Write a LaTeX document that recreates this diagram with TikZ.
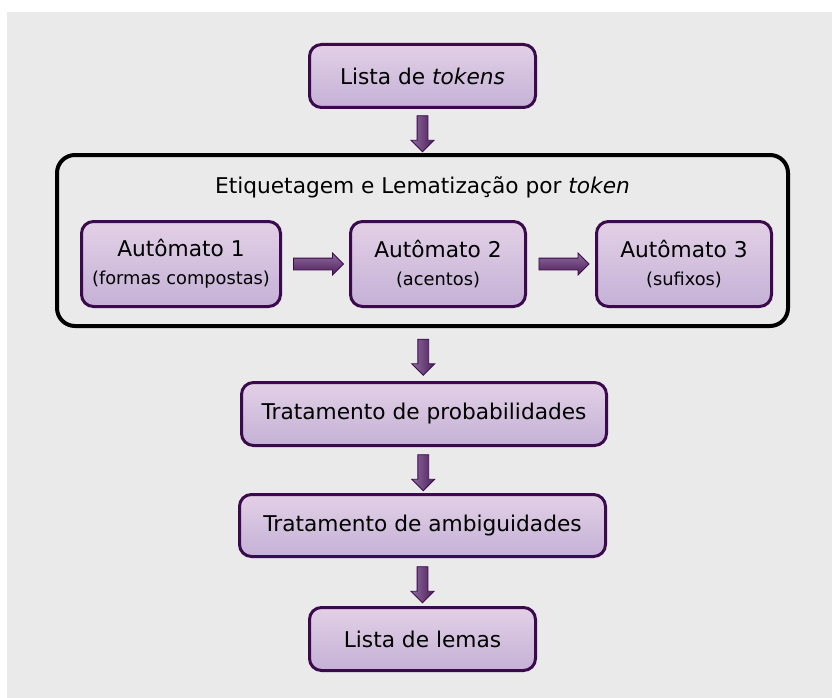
\documentclass[tikz,border=0pt]{standalone}
\usepackage{fontspec}
\setmainfont{DejaVu Sans}
\usetikzlibrary{shapes.arrows,calc}
\definecolor{boxtop}{HTML}{E3D0E6}
\definecolor{boxbot}{HTML}{C4B1D6}
\definecolor{boxline}{HTML}{3A0A4C}
\definecolor{arlight}{HTML}{8E6C9E}
\definecolor{ardark}{HTML}{4E1E5A}
\definecolor{bg}{HTML}{EAEAEA}
\newcommand{\mainf}{\fontsize{21.7}{26}\selectfont}
\newcommand{\subf}{\fontsize{17.8}{21}\selectfont}
\tikzset{
  pbox/.style={rectangle, rounded corners=12pt, draw=boxline, line width=3pt,
    top color=boxtop, bottom color=boxbot, align=center, inner sep=0pt,
    font=\mainf, text=black},
  frame/.style={rectangle, rounded corners=18pt, draw=black, line width=4pt, inner sep=0pt},
  darr/.style={single arrow, shape border rotate=270, draw=boxline, line width=0.8pt,
    left color=arlight, right color=ardark, inner sep=5pt,
    single arrow head extend=6pt, single arrow tip angle=90, minimum height=36pt},
  rarr/.style={single arrow, draw=boxline, line width=0.8pt,
    top color=arlight, bottom color=ardark, inner sep=5.5pt,
    single arrow head extend=5pt, single arrow tip angle=90, minimum height=50pt},
}
\begin{document}
\begin{tikzpicture}[x=1pt,y=-1pt]
\useasboundingbox (0,0) rectangle (832,698);
\fill[white] (0,0) rectangle (832,698);
\fill[bg] (7,12) rectangle (832,698);
\node[pbox, minimum width=226pt, minimum height=63pt] (lt) at (422.5,76) {Lista de \textit{tokens}};
\node[frame, minimum width=731pt, minimum height=171pt] (fr) at (422.5,240.5) {};
\node[font=\mainf] (title) at (422.5,187) {Etiquetagem e Lematização por \textit{token}};
\node[pbox, minimum width=199pt, minimum height=85pt] (a1) at (181,264) {Autômato 1\\[2pt]{\subf (formas compostas)}};
\node[pbox, minimum width=175pt, minimum height=85pt] (a2) at (438,264) {Autômato 2\\[2pt]{\subf (acentos)}};
\node[pbox, minimum width=175pt, minimum height=85pt] (a3) at (684,264) {Autômato 3\\[2pt]{\subf (sufixos)}};
\node[pbox, minimum width=365pt, minimum height=63pt] (tp) at (424,414) {Tratamento de probabilidades};
\node[pbox, minimum width=366pt, minimum height=62pt] (ta) at (422.5,525.5) {Tratamento de ambiguidades};
\node[pbox, minimum width=226pt, minimum height=63pt] (ll) at (422.5,639) {Lista de lemas};
\node[darr] (d1) at ($(lt.south)!0.5!(fr.north)$) {};
\node[darr] (d2) at ($(fr.south)!0.5!(tp.north)$) {};
\node[darr] (d3) at ($(tp.south)!0.5!(ta.north)$) {};
\node[darr] (d4) at ($(ta.south)!0.5!(ll.north)$) {};
\node[rarr] (r1) at ($(a1.east)!0.5!(a2.west)$) {};
\node[rarr] (r2) at ($(a2.east)!0.5!(a3.west)$) {};
\end{tikzpicture}
\end{document}
